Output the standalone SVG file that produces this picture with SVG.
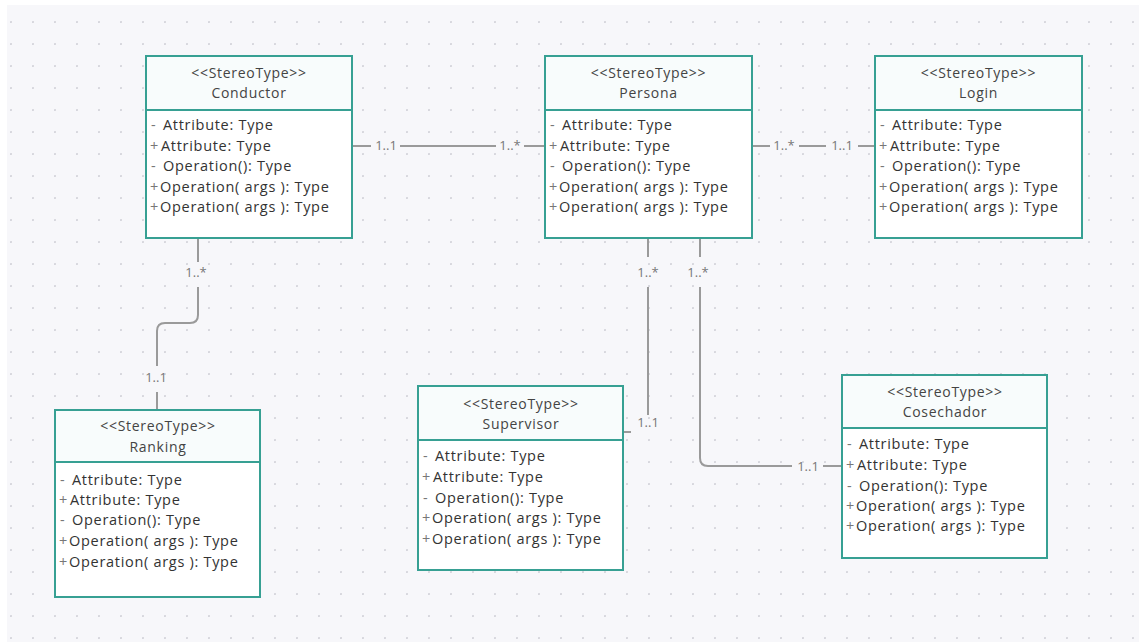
<svg xmlns="http://www.w3.org/2000/svg" width="1139" height="642" viewBox="0 0 1139 642">
  <defs>
    <pattern id="dots" x="10" y="0" width="22" height="22" patternUnits="userSpaceOnUse">
      <circle cx="1" cy="22" r="1.1" fill="#d3d3da"/>
      <circle cx="1" cy="0" r="1.1" fill="#d3d3da"/>
    </pattern>
    <style>
      .box { fill: #ffffff; stroke: #37a093; stroke-width: 2; }
      .head { fill: #f8fcfc; }
      .div { stroke: #37a093; stroke-width: 2; }
      .st { font-family: "Open Sans", "Noto Sans", sans-serif; font-size: 14px; letter-spacing: 0.7px; fill: #444; text-anchor: middle; }
      .nm { font-family: "Open Sans", "Noto Sans", sans-serif; font-size: 14px; letter-spacing: 0.7px; fill: #444; text-anchor: middle; }
      .row { font-family: "Open Sans", "Noto Sans", sans-serif; font-size: 14.5px; letter-spacing: 0.7px; fill: #333; }
      .pre { fill: #777; }
      .conn { fill: none; stroke: #9a9a9a; stroke-width: 2; }
      .lbl { font-family: "Open Sans", "Noto Sans", sans-serif; font-size: 13px; fill: #777; text-anchor: middle; }
    </style>
  </defs>

  <!-- canvas -->
  <rect x="0" y="0" width="1139" height="642" fill="#ffffff"/>
  <rect x="7" y="5" width="1132" height="637" fill="#f7f7fa"/>
  <rect x="7" y="5" width="1132" height="637" fill="url(#dots)"/>

  <!-- associations -->
  <g id="connectors">
    <!-- Conductor - Persona -->
    <path class="conn" d="M352,146 H371 M400,146 H496 M524,146 H545"/>
    <text class="lbl" x="386" y="150">1..1</text>
    <text class="lbl" x="510" y="150">1..*</text>
    <!-- Persona - Login -->
    <path class="conn" d="M752,146 H770 M799,146 H826 M858,146 H875"/>
    <text class="lbl" x="784" y="150">1..*</text>
    <text class="lbl" x="842" y="150">1..1</text>
    <!-- Conductor - Ranking -->
    <path class="conn" d="M198,238 V262 M198,287 V315 Q198,323 190,323 H165 Q157,323 157,331 V366 M157,392 V410"/>
    <text class="lbl" x="196" y="277">1..*</text>
    <text class="lbl" x="156" y="382">1..1</text>
    <!-- Persona - Supervisor -->
    <path class="conn" d="M648,238 V257 M648,287 V415 M623,432 H631"/>
    <text class="lbl" x="648" y="277">1..*</text>
    <text class="lbl" x="648" y="427">1..1</text>
    <!-- Persona - Cosechador -->
    <path class="conn" d="M700,238 V257 M700,287 V458 Q700,466 708,466 H792 M823,466 H842"/>
    <text class="lbl" x="698" y="277">1..*</text>
    <text class="lbl" x="808" y="471">1..1</text>
  </g>

  <!-- Conductor -->
  <g id="conductor" transform="translate(146,56)">
    <rect class="box" x="0" y="0" width="206" height="182"/>
    <rect class="head" x="1" y="1" width="204" height="52"/>
    <line class="div" x1="0" y1="54" x2="206" y2="54"/>
    <text class="st" x="103" y="22">&lt;&lt;StereoType&gt;&gt;</text>
    <text class="nm" x="103" y="42">Conductor</text>
    <text class="row" y="74"><tspan class="pre" x="5">-</tspan><tspan x="17">Attribute: Type</tspan></text>
    <text class="row" y="94.5"><tspan class="pre" x="4">+</tspan><tspan x="15">Attribute: Type</tspan></text>
    <text class="row" y="115"><tspan class="pre" x="5">-</tspan><tspan x="17">Operation(): Type</tspan></text>
    <text class="row" y="135.5"><tspan class="pre" x="4">+</tspan><tspan x="14">Operation( args ): Type</tspan></text>
    <text class="row" y="156"><tspan class="pre" x="4">+</tspan><tspan x="14">Operation( args ): Type</tspan></text>
  </g>

  <!-- Persona -->
  <g id="persona" transform="translate(545,56)">
    <rect class="box" x="0" y="0" width="207" height="182"/>
    <rect class="head" x="1" y="1" width="205" height="52"/>
    <line class="div" x1="0" y1="54" x2="207" y2="54"/>
    <text class="st" x="103.5" y="22">&lt;&lt;StereoType&gt;&gt;</text>
    <text class="nm" x="103.5" y="42">Persona</text>
    <text class="row" y="74"><tspan class="pre" x="5">-</tspan><tspan x="17">Attribute: Type</tspan></text>
    <text class="row" y="94.5"><tspan class="pre" x="4">+</tspan><tspan x="15">Attribute: Type</tspan></text>
    <text class="row" y="115"><tspan class="pre" x="5">-</tspan><tspan x="17">Operation(): Type</tspan></text>
    <text class="row" y="135.5"><tspan class="pre" x="4">+</tspan><tspan x="14">Operation( args ): Type</tspan></text>
    <text class="row" y="156"><tspan class="pre" x="4">+</tspan><tspan x="14">Operation( args ): Type</tspan></text>
  </g>

  <!-- Login -->
  <g id="login" transform="translate(875,56)">
    <rect class="box" x="0" y="0" width="207" height="182"/>
    <rect class="head" x="1" y="1" width="205" height="52"/>
    <line class="div" x1="0" y1="54" x2="207" y2="54"/>
    <text class="st" x="103.5" y="22">&lt;&lt;StereoType&gt;&gt;</text>
    <text class="nm" x="103.5" y="42">Login</text>
    <text class="row" y="74"><tspan class="pre" x="5">-</tspan><tspan x="17">Attribute: Type</tspan></text>
    <text class="row" y="94.5"><tspan class="pre" x="4">+</tspan><tspan x="15">Attribute: Type</tspan></text>
    <text class="row" y="115"><tspan class="pre" x="5">-</tspan><tspan x="17">Operation(): Type</tspan></text>
    <text class="row" y="135.5"><tspan class="pre" x="4">+</tspan><tspan x="14">Operation( args ): Type</tspan></text>
    <text class="row" y="156"><tspan class="pre" x="4">+</tspan><tspan x="14">Operation( args ): Type</tspan></text>
  </g>

  <!-- Ranking -->
  <g id="ranking" transform="translate(55,410)">
    <rect class="box" x="0" y="0" width="205" height="187"/>
    <rect class="head" x="1" y="1" width="203" height="50"/>
    <line class="div" x1="0" y1="52" x2="205" y2="52"/>
    <text class="st" x="103" y="21">&lt;&lt;StereoType&gt;&gt;</text>
    <text class="nm" x="103" y="42">Ranking</text>
    <text class="row" y="74.5"><tspan class="pre" x="5">-</tspan><tspan x="17">Attribute: Type</tspan></text>
    <text class="row" y="94.5"><tspan class="pre" x="4">+</tspan><tspan x="15">Attribute: Type</tspan></text>
    <text class="row" y="115"><tspan class="pre" x="5">-</tspan><tspan x="17">Operation(): Type</tspan></text>
    <text class="row" y="136"><tspan class="pre" x="4">+</tspan><tspan x="14">Operation( args ): Type</tspan></text>
    <text class="row" y="157"><tspan class="pre" x="4">+</tspan><tspan x="14">Operation( args ): Type</tspan></text>
  </g>

  <!-- Supervisor -->
  <g id="supervisor" transform="translate(418,386)">
    <rect class="box" x="0" y="0" width="205" height="184"/>
    <rect class="head" x="1" y="1" width="203" height="52"/>
    <line class="div" x1="0" y1="54" x2="205" y2="54"/>
    <text class="st" x="103" y="23">&lt;&lt;StereoType&gt;&gt;</text>
    <text class="nm" x="103" y="43">Supervisor</text>
    <text class="row" y="75"><tspan class="pre" x="5">-</tspan><tspan x="17">Attribute: Type</tspan></text>
    <text class="row" y="96"><tspan class="pre" x="4">+</tspan><tspan x="15">Attribute: Type</tspan></text>
    <text class="row" y="117"><tspan class="pre" x="5">-</tspan><tspan x="17">Operation(): Type</tspan></text>
    <text class="row" y="137"><tspan class="pre" x="4">+</tspan><tspan x="14">Operation( args ): Type</tspan></text>
    <text class="row" y="158"><tspan class="pre" x="4">+</tspan><tspan x="14">Operation( args ): Type</tspan></text>
  </g>

  <!-- Cosechador -->
  <g id="cosechador" transform="translate(842,375)">
    <rect class="box" x="0" y="0" width="205" height="183"/>
    <rect class="head" x="1" y="1" width="203" height="51"/>
    <line class="div" x1="0" y1="53" x2="205" y2="53"/>
    <text class="st" x="103" y="22">&lt;&lt;StereoType&gt;&gt;</text>
    <text class="nm" x="103" y="42">Cosechador</text>
    <text class="row" y="73.5"><tspan class="pre" x="5">-</tspan><tspan x="17">Attribute: Type</tspan></text>
    <text class="row" y="95"><tspan class="pre" x="4">+</tspan><tspan x="15">Attribute: Type</tspan></text>
    <text class="row" y="116"><tspan class="pre" x="5">-</tspan><tspan x="17">Operation(): Type</tspan></text>
    <text class="row" y="136"><tspan class="pre" x="4">+</tspan><tspan x="14">Operation( args ): Type</tspan></text>
    <text class="row" y="156"><tspan class="pre" x="4">+</tspan><tspan x="14">Operation( args ): Type</tspan></text>
  </g>
</svg>
